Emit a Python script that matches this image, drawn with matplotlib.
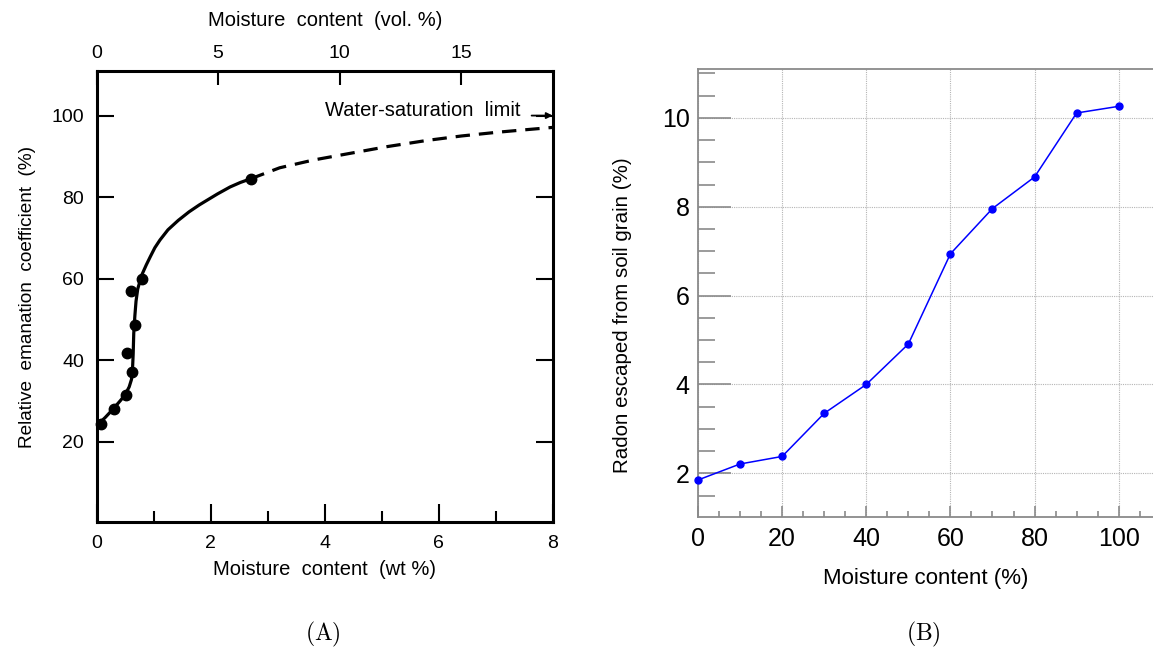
import matplotlib
matplotlib.use("Agg")
import matplotlib.pyplot as plt
from matplotlib.ticker import MultipleLocator, FixedLocator

plt.rcParams['font.family'] = ['Liberation Sans', 'DejaVu Sans']
plt.rcParams['mathtext.fontset'] = 'cm'

# ---------------- Panel A data ----------------
a_pts_x = [0.07, 0.30, 0.51, 0.53, 0.62, 0.68, 0.61, 0.80, 2.71]
a_pts_y = [24.5, 28.0, 31.6, 41.7, 37.1, 48.7, 57.1, 60.0, 84.5]
a_solid_x = [0.0, 0.15, 0.29, 0.42, 0.50, 0.57, 0.61, 0.63, 0.64, 0.65, 0.67,
             0.69, 0.72, 0.79, 0.87, 0.94, 1.02, 1.11, 1.25, 1.43, 1.62,
             1.80, 1.93, 2.12, 2.34, 2.52, 2.70]
a_solid_y = [24.0, 26.0, 28.1, 30.2, 31.6, 33.5, 35.3, 38.4, 41.6, 46.6, 51.0,
             54.5, 57.5, 60.9, 63.4, 65.4, 67.6, 69.5, 72.0, 74.3, 76.4,
             78.1, 79.2, 80.8, 82.5, 83.6, 84.5]
a_dash_x = [2.70, 3.21, 3.80, 4.39, 5.10, 5.79, 6.40, 7.02, 7.50, 8.0]
a_dash_y = [84.5, 87.2, 89.1, 90.6, 92.4, 93.9, 95.0, 95.9, 96.5, 97.1]
a_yticks = [20, 40, 60, 80, 100]
a_xticks_minor = [1, 3, 5, 7]
a_xticklabels = [0, 2, 4, 6, 8]
a_top_ticks = [0, 5, 10, 15]

# ---------------- Panel B data ----------------
b_x = [0, 10, 20, 30, 40, 50, 60, 70, 80, 90, 100]
b_y = [1.85, 2.21, 2.38, 3.35, 4.00, 4.91, 6.94, 7.96, 8.67, 10.11, 10.26]
b_xticks = [0, 20, 40, 60, 80, 100]
b_yticks = [2, 4, 6, 8, 10]

W, H = 1153, 651
fig = plt.figure(figsize=(W / 100, H / 100), dpi=100)

# ================= Panel A =================
axA = fig.add_axes([96.7 / W, 1 - 522.3 / H, (552.7 - 96.7) / W, (522.3 - 70.7) / H])
axA.set_xlim(0, 8)
axA.set_ylim(0.3, 111)
for s in axA.spines.values():
    s.set_linewidth(2.2)
    s.set_color('black')

axA.plot(a_solid_x, a_solid_y, color='black', lw=2.3, solid_capstyle='round',
         solid_joinstyle='round')
axA.plot(a_dash_x, a_dash_y, color='black', lw=2.3, dashes=(4.5, 2.8))
axA.plot(a_pts_x, a_pts_y, 'o', color='black', ms=7.5, clip_on=False)

axA.xaxis.set_major_locator(FixedLocator(a_xticklabels))
axA.xaxis.set_minor_locator(FixedLocator(a_xticks_minor))
axA.set_xticklabels([str(v) for v in a_xticklabels])
axA.yaxis.set_major_locator(FixedLocator(a_yticks))
axA.tick_params(axis='x', which='major', direction='in', length=13, width=1.5,
                labelsize=14, pad=9, top=False)
axA.tick_params(axis='x', which='minor', direction='in', length=8, width=1.5, top=False)
axA.tick_params(axis='y', which='major', direction='in', length=12, width=1.5,
                labelsize=14, pad=9, right=True)
axA.set_xlabel('Moisture  content  (wt %)', fontsize=14.5, labelpad=6)
axA.set_ylabel('Relative  emanation  coefficient  (%)', fontsize=13.7, labelpad=11)

axT = axA.twiny()
axT.set_xlim(0, 18.77)
axT.xaxis.set_major_locator(FixedLocator(a_top_ticks))
axT.tick_params(axis='x', which='major', direction='in', length=10, width=1.5,
                labelsize=14, pad=6)
axT.set_xlabel('Moisture  content  (vol. %)', fontsize=14.5, labelpad=14)
for s in axT.spines.values():
    s.set_visible(False)

axA.text(4.0, 101.2, 'Water-saturation  limit', fontsize=14.5, va='center', ha='left')
axA.annotate('', xy=(8.0, 100), xytext=(7.63, 100),
             arrowprops=dict(arrowstyle='-|>', color='black', lw=1.3,
                             mutation_scale=9, shrinkA=0, shrinkB=0))

# ================= Panel B =================
bl = 698.0
bpx = 4.207
xmaxB = (W - bl) / bpx
axB = fig.add_axes([bl / W, 1 - 517.3 / H, (W - bl) / W, (517.3 - 69.0) / H])
axB.set_xlim(0, xmaxB)
axB.set_ylim(1.01, 11.1)
axB.spines['right'].set_visible(False)
for k in ['left', 'top', 'bottom']:
    axB.spines[k].set_color('#8a8a8a')
    axB.spines[k].set_linewidth(1.3)

axB.xaxis.set_major_locator(FixedLocator(b_xticks))
axB.xaxis.set_minor_locator(MultipleLocator(5))
axB.yaxis.set_major_locator(FixedLocator(b_yticks))
axB.yaxis.set_minor_locator(MultipleLocator(0.5))
axB.grid(True, which='major', color='#b5b5b5', linestyle=(0, (1, 1)), lw=0.8)
axB.set_axisbelow(True)
axB.tick_params(axis='x', which='major', direction='in', length=8, width=1.2,
                color='#8a8a8a', labelsize=18, pad=7)
axB.tick_params(axis='x', which='minor', direction='in', length=4.5, width=1.2,
                color='#8a8a8a')
axB.tick_params(axis='y', which='major', direction='in', length=24, width=1.2,
                color='#8a8a8a', labelsize=18, pad=6)
axB.tick_params(axis='y', which='minor', direction='in', length=12, width=1.2,
                color='#8a8a8a')
axB.plot(b_x, b_y, '-o', color='#0000ff', lw=1.1, ms=5, clip_on=False, zorder=5)
axB.set_xlabel('Moisture content (%)', fontsize=16, labelpad=12)
axB.set_ylabel('Radon escaped from soil grain (%)', fontsize=14.8, labelpad=12)
axB.yaxis.set_label_coords(-0.145, 1 - (315 - 69.0) / (517.3 - 69.0))

# ================= Panel captions =================
fig.text(323 / W, 1 - 634 / H, r'$\mathrm{(A)}$', fontsize=17, ha='center', va='center')
fig.text(923 / W, 1 - 634 / H, r'$\mathrm{(B)}$', fontsize=17, ha='center', va='center')

fig.savefig('out.png', dpi=100, facecolor='white')
